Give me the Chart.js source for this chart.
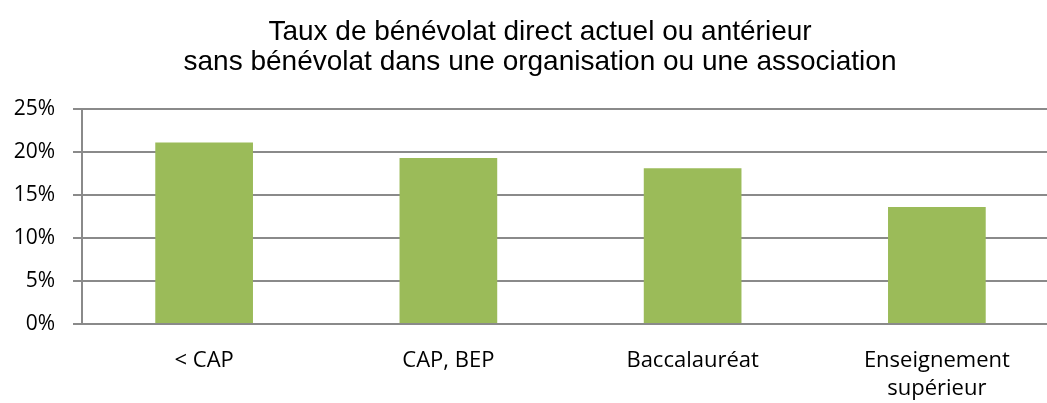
<!DOCTYPE html>
<html>
<head>
<meta charset="utf-8">
<script src="https://cdn.jsdelivr.net/npm/chart.js@4/dist/chart.umd.min.js"></script>
<style>
  html, body { margin: 0; padding: 0; background: #fff; overflow: hidden; }
  #wrap { width: 1059px; height: 403px; }
</style>
</head>
<body>
<div id="wrap"><canvas id="benevolatChart" width="1059" height="403"></canvas></div>
<script>
const titleLines = [
    'Taux de bénévolat direct actuel ou antérieur',
    'sans bénévolat dans une organisation ou une association'
];
const categories = ['< CAP', 'CAP, BEP', 'Baccalauréat', ['Enseignement', 'supérieur']];
const rates = [21.1, 19.3, 18.1, 13.6];
const yTicks = [0, 5, 10, 15, 20, 25];

const gridGrey = '#8a8a8a';
const barGreen = '#9bbb59';

// the plot runs past the right edge of the picture; centre the title
// on the full (uncropped) chart width instead of the canvas
const centreTitle = {
    id: 'centreTitle',
    afterLayout(chart) {
        const t = chart.titleBlock;
        if (t) { t.left = 0; t.right = 1080; t.width = 1080; }
    }
};

const el = document.getElementById('benevolatChart');
new Chart(el, {
    type: 'bar',
    data: {
        labels: categories,
        datasets: [
            {
                data: rates,
                backgroundColor: barGreen,
                borderWidth: 0,
                categoryPercentage: 1,
                barPercentage: 0.4
            }
        ]
    },
    options: {
        responsive: false,
        animation: false,
        layout: { padding: 0 },
        plugins: {
            legend: { display: false },
            tooltip: { enabled: false },
            title: {
                display: true,
                text: titleLines,
                color: '#000',
                font: { family: '"Liberation Sans", Arial, sans-serif', size: 28, weight: 'normal', lineHeight: '30px' },
                padding: { top: 17, bottom: 32 }
            }
        },
        scales: {
            x: {
                afterFit: s => { s.height = 79; },
                grid: { display: false, drawTicks: false },
                border: { display: true, color: gridGrey, width: 2 },
                ticks: {
                    color: '#000',
                    padding: 23,
                    maxRotation: 0,
                    font: { family: '"Open Sans", sans-serif', size: 22, lineHeight: '28px' }
                }
            },
            y: {
                min: 0,
                max: 25,
                afterFit: s => { s.width = 82; },
                afterBuildTicks: s => { s.ticks = yTicks.map(v => ({ value: v })); },
                grid: { color: gridGrey, lineWidth: 2, tickLength: 9 },
                border: { display: true, color: gridGrey, width: 2 },
                ticks: {
                    color: '#000',
                    padding: 18,
                    callback: v => v + '%',
                    font: { family: '"Open Sans", sans-serif', size: 21 }
                }
            }
        }
    },
    plugins: [centreTitle]
});
</script>
</body>
</html>
